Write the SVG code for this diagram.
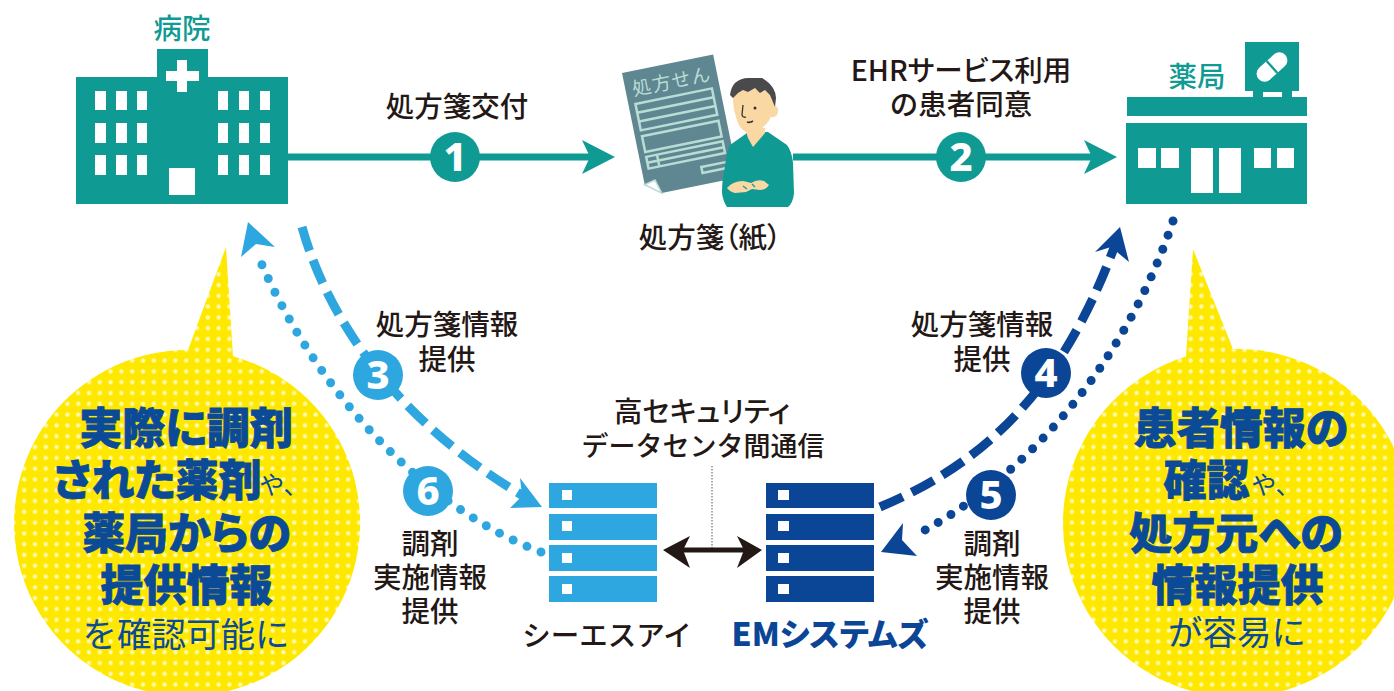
<svg xmlns="http://www.w3.org/2000/svg" width="1394" height="691" viewBox="0 0 1394 691">
<style>
text{font-family:"Noto Sans CJK JP","Noto Sans",sans-serif;text-anchor:middle;font-weight:500;fill:#231815}
.t{font-size:28.5px}
.teal{fill:#0f9b94}
.tl{fill:#0f9b94;font-size:28.5px}
.w{fill:#fff}
.b{font-size:43px;font-weight:900;fill:#0b4a96;stroke:#0b4a96;stroke-width:.8;font-feature-settings:'palt'}
.s{font-size:34.5px;font-weight:400;fill:#0b4a96}
.y{font-size:25px;font-weight:400;fill:#0b4a96}
.n{font-family:"Noto Sans","Liberation Sans",sans-serif;font-size:40px;font-weight:800;fill:#fff}
.sky{fill:#2ea7e0}
.navy{fill:#0b4596}
.conn{fill:none}
.p{font-feature-settings:'palt'}
</style>
<defs>
<pattern id="dots" width="10.8" height="10.8" patternUnits="userSpaceOnUse" x="83.6" y="387.6">
<rect width="10.8" height="10.8" fill="#ffe800"/>
<circle cx="5.4" cy="5.4" r="2.2" fill="#fff9b0"/>
</pattern>
</defs>
<rect width="1394" height="691" fill="#fff"/>

<g id="bubble-left">
<path d="M226,247 L233,356.2 A173,173 0 1 1 188,350 Z" fill="url(#dots)"/>
<text class="b" x="186" y="444">実際に調剤</text>
<text class="b" x="157.5" y="496">された薬剤</text>
<text class="y" x="284" y="494">や、</text>
<text class="b" x="186.5" y="549">薬局からの</text>
<text class="b" x="186.5" y="601">提供情報</text>
<text class="s" x="186" y="647">を確認可能に</text>
</g>
<g id="bubble-right">
<path d="M1193,249 L1233,349 A174,174 0 1 1 1186,356.6 Z" fill="url(#dots)"/>
<text class="b" x="1241" y="444">患者情報の</text>
<text class="b" x="1206.5" y="496">確認</text>
<text class="y" x="1276" y="494">や、</text>
<text class="b" x="1236" y="549">処方元への</text>
<text class="b" x="1237.5" y="601">情報提供</text>
<text class="s" x="1237" y="645">が容易に</text>
</g>

<g id="connectors" class="conn">
<path d="M288,157H600" stroke="#0f9b94" stroke-width="7"/>
<polygon points="615,157 582,140 590,157 582,174" fill="#0f9b94"/>
<path d="M793,157H1102" stroke="#0f9b94" stroke-width="7"/>
<polygon points="1117,157 1084,140 1092,157 1084,174" fill="#0f9b94"/>
<path d="M302,227C325,310 390,420 532,501" stroke="#2ea7e0" stroke-width="9" stroke-dasharray="25 10"/>
<polygon points="542,507 520,478 522,496 510,508" fill="#2ea7e0"/>
<path d="M541,552C430,510 320,400 259,258" stroke="#2ea7e0" stroke-width="9" stroke-linecap="round" stroke-dasharray="0 15.2"/>
<polygon points="248,222 275,247 256,244 241,257" fill="#2ea7e0"/>
<path d="M880,507C980,465 1060,395 1115,245" stroke="#0b4596" stroke-width="9" stroke-dasharray="25 10"/>
<polygon points="1120,227 1095,252 1111,247 1129,262" fill="#0b4596"/>
<path d="M1173,221C1130,350 1040,470 914,536" stroke="#0b4596" stroke-width="9" stroke-linecap="round" stroke-dasharray="0 15"/>
<polygon points="881,552 903,523 902,540 917,556" fill="#0b4596"/>
<path d="M712,466V550" stroke="#555" stroke-width="1" stroke-dasharray="1.5 1.5"/>
<path d="M680,550H745" stroke="#231815" stroke-width="5"/>
<polygon points="663,550 690,536 683,550 690,568" fill="#231815"/>
<polygon points="762,550 737,536 744,550 737,568" fill="#231815"/>
</g>

<g id="hospital">
<text class="tl" x="182" y="39">病院</text>
<path class="teal" d="M76,77H157V49H208V77H288V204H76Z"/>
<path class="w" d="M177,60H187V71H199V81H187V92H177V81H166V71H177Z"/>
<path class="w" d="M95,91h11v19h-11zM116,91h11v19h-11zM137,91h10v19h-10zM95,123h11v20h-11zM116,123h11v20h-11zM137,123h10v20h-10zM95,155h11v20h-11zM116,155h11v20h-11zM137,155h10v20h-10zM218,91h10v19h-10zM239,91h10v19h-10zM260,91h10v19h-10zM218,123h10v20h-10zM239,123h10v20h-10zM260,123h10v20h-10zM218,155h10v20h-10zM239,155h10v20h-10zM260,155h10v20h-10zM169,168h26v27h-26z"/>
</g>

<g id="prescription">
<g transform="translate(622,73) rotate(-11.5)">
<polygon points="0,0 93,0 93,125.6 15,125.6 0,114" fill="#5f8791"/>
<polygon points="0,114 11,111.5 15,125.6" fill="#fff" stroke="#b9dcd5" stroke-width="1.5"/>
<text x="47" y="25" style="font-size:19px;fill:#b9dcd5;font-weight:400;letter-spacing:1px">処方せん</text>
<g fill="none" stroke="#b9dcd5" stroke-width="2.5">
<rect x="7" y="33" width="78" height="27"/>
<path d="M7,42H85M7,51H85"/>
<rect x="7" y="66" width="78" height="16"/>
<rect x="7" y="87" width="78" height="12"/>
<path d="M18,87V99M7,93H85"/>
<rect x="59" y="108" width="26" height="6"/>
</g>
</g>
<path d="M730,145L747,133L768,132L787,145Q792,152 793,163L794,193Q793,203 788,207H727Q723,201 722,193Q722,178 725,167Q726,153 730,145Z" fill="#0f9b94"/>
<path d="M745,128H765V133L753,147L748,138Z" fill="#fad8a4"/>
<path d="M733,96Q733,108 735,113Q737,122 740,127Q745,133 751,133Q760,132 768,122Q770,119 771,117Q777,118 778,112Q779,107 775,106L770,92L745,84Z" fill="#fad8a4"/>
<path d="M730,95Q731,87 735,83Q741,78 748,78L762,78Q769,82 773,88Q776,93 776,98L775,107L770,95L765,90L760,93L755,88L748,92L743,90L738,93L733,98Z" fill="#4a4a4c"/>
<path d="M743,105L742,115Q743,118 746,117" fill="none" stroke="#3a3030" stroke-width="1.3"/>
<path d="M747,122Q750,123 753,121" fill="none" stroke="#3a3030" stroke-width="1.6"/>
<circle cx="755" cy="108" r="1.5" fill="#3a3030"/>
<path d="M727,188Q733,181 743,181Q748,182 751,183Q757,179 764,181L769,185Q766,190 760,190L752,189L746,192L735,193Q730,192 727,188Z" fill="#fad8a4"/>
<path d="M743,186L747,189M752,184L755,187" stroke="#0f9b94" stroke-width="1.2" fill="none"/>
<text class="t p" x="710" y="248">処方箋（紙）</text>
</g>

<g id="pharmacy">
<text class="tl" x="1197" y="87">薬局</text>
<rect class="teal" x="1245" y="42" width="54" height="49"/>
<path class="teal" d="M1253,91H1292V98H1253Z"/>
<rect class="w" x="1263" y="92" width="19" height="6"/>
<rect class="teal" x="1127" y="97" width="180" height="19"/>
<rect class="teal" x="1126" y="123" width="181" height="81"/>
<g transform="translate(1272,67) rotate(-42)">
<rect class="w" x="-18" y="-8" width="36" height="16" rx="8"/>
<rect class="teal" x="-1.2" y="-8" width="2.4" height="16"/>
</g>
<path class="w" d="M1138,148h18v20h-18zM1161,148h18v20h-18zM1191,148h22v45h-22zM1219,148h22v45h-22zM1254,148h17v20h-17zM1277,148h17v20h-17z"/>
</g>

<g id="server-csi">
<path class="sky" d="M549,483h108v25h-108zM549,514h108v26h-108zM549,545h108v26h-108zM549,576h108v26h-108z"/>
<path class="w" d="M562,490h10v10h-10zM562,521h10v10h-10zM562,553h10v10h-10zM562,584h10v10h-10z"/>
<text class="t" x="607" y="646">シーエスアイ</text>
</g>
<g id="server-em">
<path class="navy" d="M766,483h108v25h-108zM766,514h108v26h-108zM766,545h108v26h-108zM766,576h108v26h-108z"/>
<path class="w" d="M778,490h11v10h-11zM778,521h11v10h-11zM778,553h11v10h-11zM778,584h11v10h-11z"/>
<text class="p" x="830" y="646" style="font-size:32px;font-weight:900;fill:#0b4596">EMシステムズ</text>
</g>

<g id="step-1"><circle class="teal" cx="455" cy="157" r="25"/><text class="n" x="455" y="171">1</text></g>
<g id="step-2"><circle class="teal" cx="961" cy="157" r="25"/><text class="n" x="961" y="171">2</text></g>
<g id="step-3"><circle class="sky" cx="378" cy="375" r="25"/><text class="n" x="378" y="389">3</text></g>
<g id="step-4"><circle class="navy" cx="1046" cy="373" r="25"/><text class="n" x="1046" y="387">4</text></g>
<g id="step-5"><circle class="navy" cx="991" cy="495" r="25"/><text class="n" x="991" y="509">5</text></g>
<g id="step-6"><circle class="sky" cx="428" cy="491" r="25"/><text class="n" x="428" y="505">6</text></g>

<g id="labels">
<text class="t" x="457" y="117">処方箋交付</text>
<text class="t p" x="961" y="81">EHRサービス利用</text>
<text class="t" x="961" y="115">の患者同意</text>
<text class="t" x="447" y="335">処方箋情報</text>
<text class="t" x="447" y="370">提供</text>
<text class="t" x="982" y="335">処方箋情報</text>
<text class="t" x="982" y="370">提供</text>
<text class="t p" x="702" y="422">高セキュリティ</text>
<text class="t" x="703" y="456" style="font-size:27px">データセンタ間通信</text>
<text class="t" x="430" y="554">調剤</text>
<text class="t" x="430" y="588">実施情報</text>
<text class="t" x="430" y="622">提供</text>
<text class="t" x="992" y="554">調剤</text>
<text class="t" x="992" y="588">実施情報</text>
<text class="t" x="992" y="622">提供</text>
</g>
</svg>
